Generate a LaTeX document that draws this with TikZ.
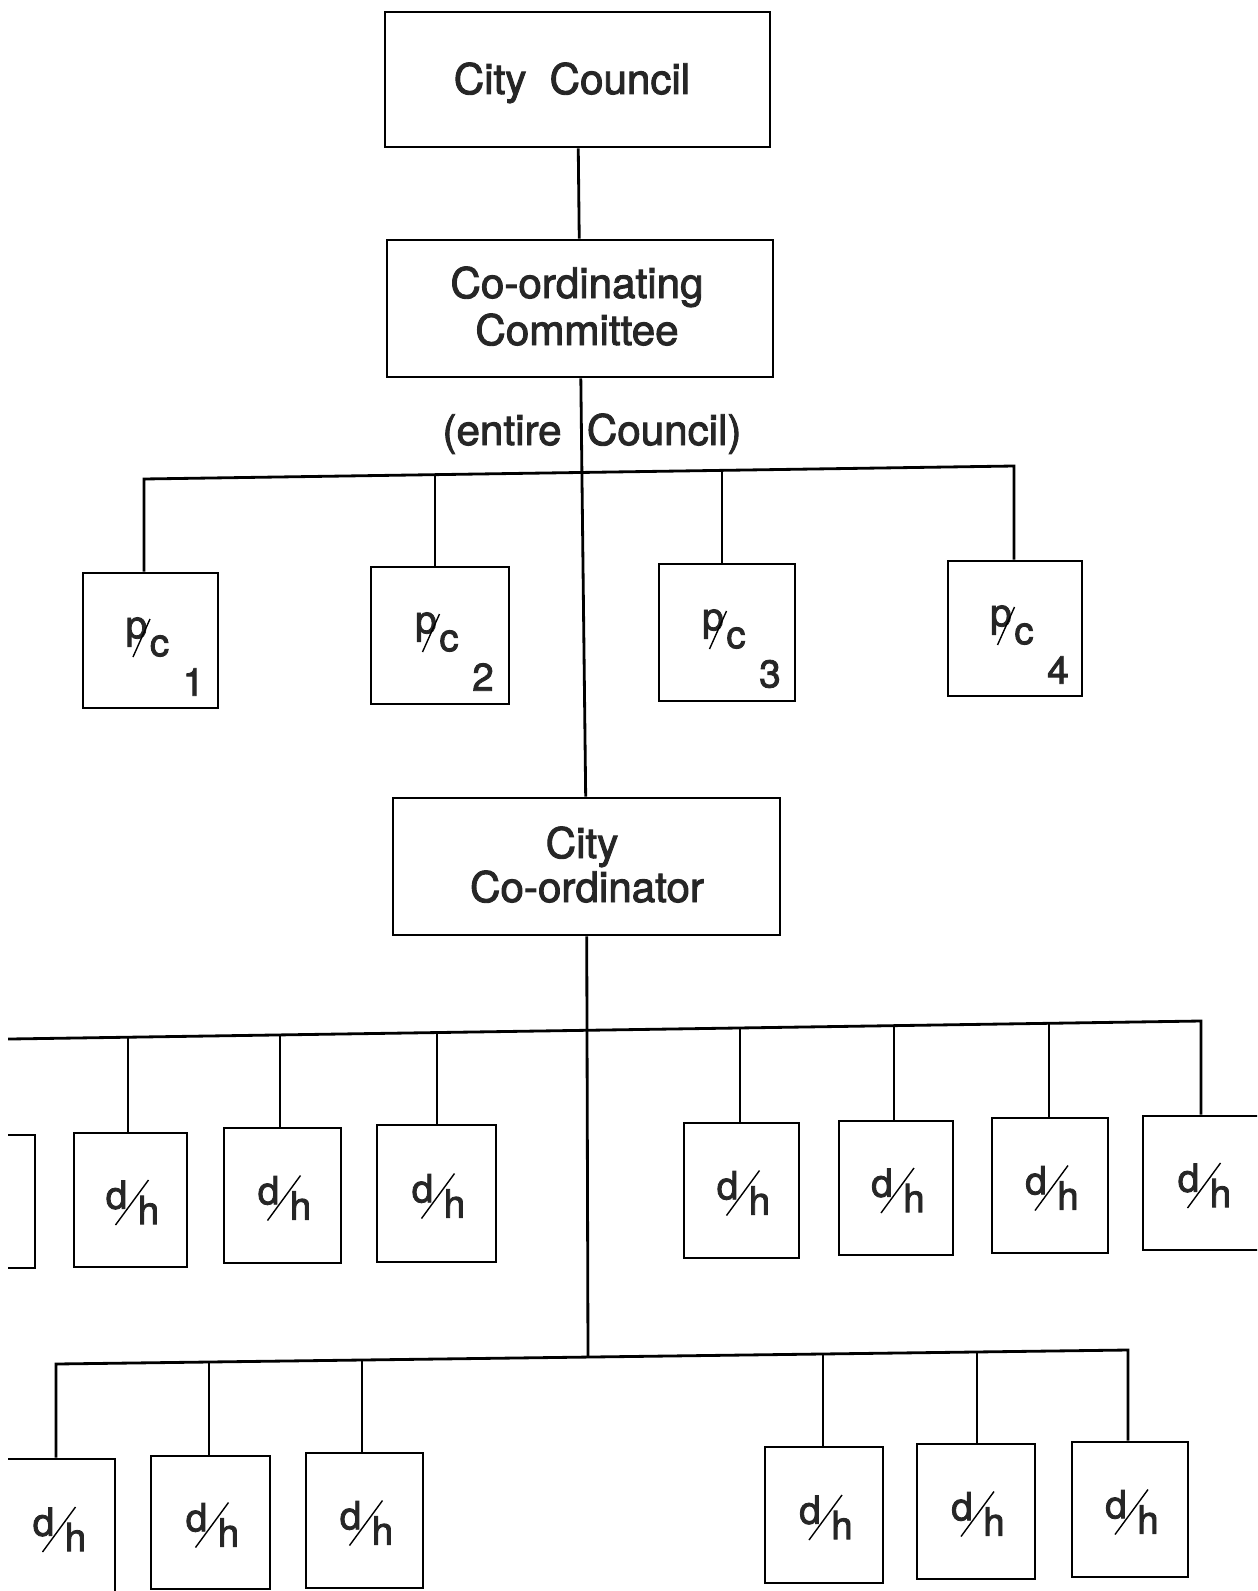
\documentclass[tikz,border=0pt]{standalone}
\usepackage{fontspec}
\setmainfont{TeX Gyre Heros}[FakeBold=2.2]
\usetikzlibrary{calc,fit}
\tikzset{
  box/.style={draw, line width=1.6pt, inner sep=0pt},
  conn/.style={line width=1.6pt},
  txt/.style={inner sep=0pt, anchor=base, font=\fontsize{24}{26}\selectfont, text=black!85},
  lab/.style={inner sep=0pt, font=\fontsize{22}{24}\selectfont, text=black!85},
  slashline/.style={line width=0.8pt},
}
\newcommand\dhlab[1]{%
  \node[lab] (#1d) at ($(#1)+(-14,-5)$) {d};
  \node[lab] (#1h) at ($(#1)+(18,10)$) {h};
  \draw[slashline] ($(#1)+(-15,25)$) -- ($(#1)+(18,-20)$);
}
\newcommand\pclab[2]{%
  \node[lab] (#1p) at ($(#1)+(-14,-8.5)$) {p};
  \node[lab] (#1c) at ($(#1)+(9,5.5)$) {c};
  \draw[slashline] ($(#1)+(-17.5,16.5)$) -- ($(#1)+(-0.5,-21.5)$);
  \node[lab] (#1n) at ($(#1)+(43,41.5)$) {#2};
}
\begin{document}
\begin{tikzpicture}[x=0.02cm,y=-0.02cm]
\useasboundingbox (0,0) rectangle (1257,1591);
\clip (8,-20) rectangle (1257,1620);

% top boxes
\node[box, fit={(385,12) (770,147)}] (cc) {};
\node[box, fit={(387,240) (773,377)}] (coco) {};
\node[box, fit={(393,798) (780,935)}] (coord) {};
\node[txt] (ccT) at (572,94) {City\hspace{0.55em}Council};
\node[txt] (cocoA) at (577,298) {Co-ordinating};
\node[txt] (cocoB) at (577,345) {Committee};
\node[txt] (coordA) at (582,858) {City};
\node[txt] (coordB) at (587,902) {Co-ordinator};
\node[txt] (ent) at (592,445) {(entire\hspace{0.6em}Council)};

% p/c boxes
\node[box, fit={(83,573) (218,708)}] (P1) {};
\node[box, fit={(371,567) (509,704)}] (P2) {};
\node[box, fit={(659,564) (795,701)}] (P3) {};
\node[box, fit={(948,561) (1082,696)}] (P4) {};
\pclab{P1}{1}
\pclab{P2}{2}
\pclab{P3}{3}
\pclab{P4}{4}

% upper d/h boxes
\node[box, fit={(-78,1135) (35,1268)}] (U0) {};
\node[box, fit={(74,1133) (187,1267)}] (U1) {};
\node[box, fit={(224,1128) (341,1263)}] (U2) {};
\node[box, fit={(377,1125) (496,1262)}] (U3) {};
\node[box, fit={(684,1123) (799,1258)}] (U4) {};
\node[box, fit={(839,1121) (953,1255)}] (U5) {};
\node[box, fit={(992,1118) (1108,1253)}] (U6) {};
\node[box, fit={(1143,1116) (1262,1250)}] (U7) {};
\dhlab{U1}
\dhlab{U2}
\dhlab{U3}
\dhlab{U4}
\dhlab{U5}
\dhlab{U6}
\dhlab{U7}

% lower d/h boxes
\node[box, fit={(0,1459) (115,1595)}] (W1) {};
\node[box, fit={(151,1456) (270,1589)}] (W2) {};
\node[box, fit={(306,1453) (423,1588)}] (W3) {};
\node[box, fit={(765,1447) (883,1583)}] (W4) {};
\node[box, fit={(917,1444) (1035,1579)}] (W5) {};
\node[box, fit={(1072,1442) (1188,1577)}] (W6) {};
\dhlab{W1}
\dhlab{W2}
\dhlab{W3}
\dhlab{W4}
\dhlab{W5}
\dhlab{W6}

% trunk
\draw[conn] (cc) -- (coco);
\draw[conn] (coco) -- (coord);

% p/c bar
\coordinate (pbL) at (144,479);
\coordinate (pbR) at (1014,466);
\coordinate (pd2) at (435,474.7);
\coordinate (pd3) at (722,470.4);
\draw[conn] (P1.north -| pbL) -- (pbL) -- (pbR) -- (pbR |- P4.north);
\draw[conn] (pd2) -- (pd2 |- P2.north);
\draw[conn] (pd3) -- (pd3 |- P3.north);

% upper bar
\coordinate (ubL) at (-30,1039.6);
\coordinate (ubR) at (1201,1021);
\coordinate (ud1) at (128,1037.2);
\coordinate (ud2) at (280,1034.9);
\coordinate (ud3) at (437,1032.5);
\coordinate (ud4) at (740,1028.0);
\coordinate (ud5) at (894,1025.6);
\coordinate (ud6) at (1049,1023.3);
\draw[conn] (ubL) -- (ubR) -- (ubR |- U7.north);
\draw[conn] (ud1) -- (ud1 |- U1.north);
\draw[conn] (ud2) -- (ud2 |- U2.north);
\draw[conn] (ud3) -- (ud3 |- U3.north);
\draw[conn] (ud4) -- (ud4 |- U4.north);
\draw[conn] (ud5) -- (ud5 |- U5.north);
\draw[conn] (ud6) -- (ud6 |- U6.north);

% lower trunk and bar
\coordinate (lbJ) at (588,1357.05);
\draw[conn] (coord) -- (lbJ);
\coordinate (lbL) at (56,1364);
\coordinate (lbR) at (1128,1350);
\coordinate (ld2) at (209,1362.0);
\coordinate (ld3) at (362,1360.0);
\coordinate (ld4) at (823,1354.0);
\coordinate (ld5) at (977,1352.0);
\draw[conn] (W1.north -| lbL) -- (lbL) -- (lbR) -- (lbR |- W6.north);
\draw[conn] (ld2) -- (ld2 |- W2.north);
\draw[conn] (ld3) -- (ld3 |- W3.north);
\draw[conn] (ld4) -- (ld4 |- W4.north);
\draw[conn] (ld5) -- (ld5 |- W5.north);
\end{tikzpicture}
\end{document}
